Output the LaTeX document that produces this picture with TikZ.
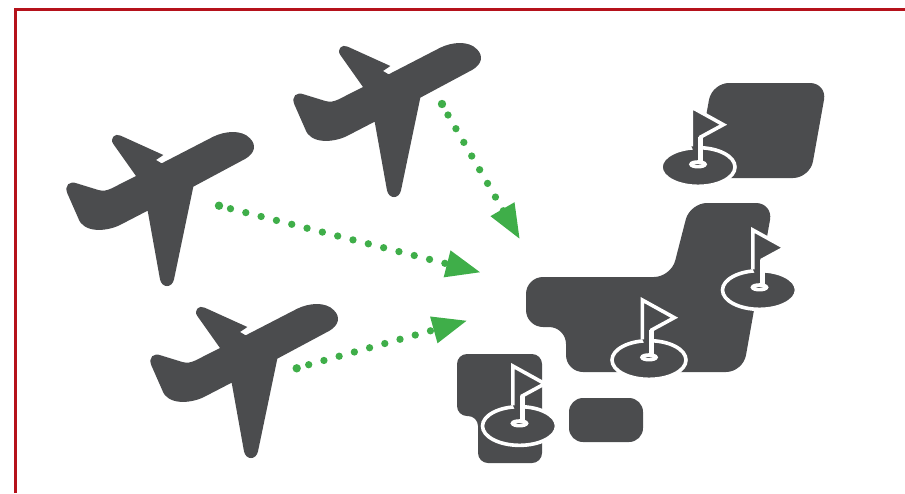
\documentclass[tikz,border=0pt]{standalone}
\usepackage{tikz}
\usetikzlibrary{arrows.meta}

\definecolor{slate}{HTML}{4B4C4E}
\definecolor{frameRed}{HTML}{B5121B}
\definecolor{leafGreen}{HTML}{3FAE49}

\tikzset{
  land/.style = {fill=slate, rounded corners=17pt},
  route/.style = {draw=leafGreen, line width=7.3pt, line cap=round, dash pattern=on 0pt off 15.8pt,
    -{Triangle[length=35pt,width=25.5pt,fill=leafGreen,line cap=butt]}},
  dot/.style = {circle, fill=leafGreen, inner sep=0pt, minimum size=8.4pt},
  plane/.pic = {
    \begin{scope}[scale=1/3]
    \fill[slate] (335,130) -- (490,50) .. controls (525,33) and (575,28) .. (600,55)
      .. controls (620,75) and (615,100) .. (585,117) -- (430,200)
      -- (372,478) .. controls (366,505) and (336,505) .. (330,478) -- (293,272)
      -- (210,315) .. controls (170,335) and (100,340) .. (85,295)
      -- (52,220) .. controls (42,195) and (60,182) .. (80,190) -- (145,210)
      .. controls (160,214) and (170,212) .. (185,205) -- (258,168)
      -- (190,72) .. controls (178,55) and (195,38) .. (212,47) -- (340,105) -- (318,120) -- cycle;
    \end{scope}
  },
  hole/.pic = {
    \begin{scope}[scale=1/3]
    \draw[fill=slate, draw=white, line width=3.6pt] (0,0) ellipse (111 and 58);
    \draw[fill=slate, draw=white, line width=3.6pt] (0,-8) ellipse (21 and 7);
    \draw[fill=slate, draw=white, line width=3.6pt] (-20,-62) -- (-20,-180) -- (76,-127) -- (8,-90) -- (8,-8);
    \draw[white, line width=5pt] (8,-90) -- (8,-8);
    \end{scope}
  }
}

\begin{document}
\begin{tikzpicture}[x=1pt, y=-1pt]
\useasboundingbox (0,0) rectangle (905,493);

% land
\path[land] (526,277) -- (671,277) -- (690,203) -- (773,203) -- (743,372) -- (566,372) -- (566,327) -- (526,327) -- cycle;
\path[land] (712,83) -- (827,83) -- (810,178) -- (695,178) -- cycle;
\path[land, rounded corners=14pt] (569,398) rectangle (643,442);
\path[land, rounded corners=10pt] (457,354) -- (542,354) -- (542,463) -- (478,463) -- (478,416) -- (457,416) -- cycle;

% flags
\pic at (649,360) {hole};
\pic at (698,167) {hole};
\pic at (759.5,290) {hole};
\pic at (519.5,426) {hole};

% planes
\pic at (50,120) {plane};
\pic at (277,31) {plane};
\pic at (134,292) {plane};

% routes
\node[dot] (startA) at (219,205.7) {};
\node[dot] (startB) at (296.7,368.3) {};
\node[dot] (startC) at (442,104) {};
\coordinate (nextA) at (230.5,208.7);
\coordinate (nextB) at (308.7,364.7);
\coordinate (nextC) at (448,115);
\coordinate (toA) at (481,272.5);
\coordinate (toB) at (467.5,320.5);
\coordinate (toC) at (520,239.5);
\path[route] (nextA) -- (toA);
\path[route] (nextB) -- (toB);
\path[route] (nextC) -- (toC);

% frame
\draw[frameRed, line width=3.5pt] (15.5,493) -- (15.5,9.5) -- (905,9.5);
\end{tikzpicture}
\end{document}
